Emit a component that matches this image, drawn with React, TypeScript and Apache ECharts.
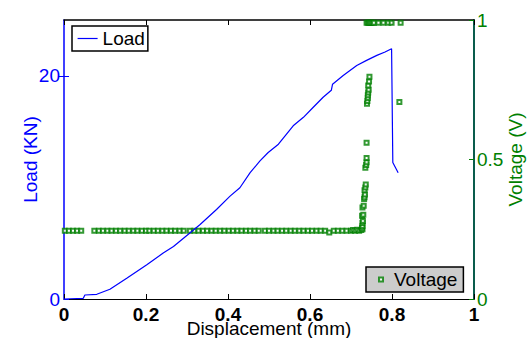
import React, { useEffect, useRef } from "react";
import * as echarts from "echarts";

const loadX = [0, 0.047, 0.051, 0.08, 0.112, 0.153, 0.202, 0.242, 0.267, 0.307, 0.332, 0.372, 0.405, 0.429, 0.454, 0.478, 0.498, 0.523, 0.559, 0.584, 0.608, 0.632, 0.652, 0.655, 0.681, 0.714, 0.738, 0.763, 0.783, 0.799, 0.802, 0.815];
const loadY = [0, 0.06, 0.36, 0.42, 0.87, 1.86, 3.06, 4.12, 4.71, 5.92, 6.67, 8.02, 9.22, 9.97, 11.32, 12.37, 13.13, 13.87, 15.52, 16.28, 17.18, 18.08, 18.7, 19.25, 20.03, 20.93, 21.38, 21.83, 22.13, 22.43, 12.23, 11.32];

const voltX = [
  0.002, 0.012, 0.022, 0.032, 0.042,
  0.074, 0.085, 0.095, 0.106, 0.116, 0.127, 0.137, 0.148, 0.158, 0.169, 0.179, 0.19, 0.2,
  0.208, 0.219, 0.229, 0.24, 0.25, 0.261, 0.271, 0.282, 0.292,
  0.307, 0.318, 0.328, 0.339, 0.349, 0.36, 0.37, 0.381, 0.391, 0.402, 0.412, 0.423, 0.433, 0.444, 0.454, 0.465, 0.475,
  0.49, 0.5, 0.511, 0.521, 0.532, 0.542, 0.553, 0.563, 0.574, 0.584, 0.595, 0.605, 0.616, 0.626, 0.637, 0.647, 0.658, 0.668, 0.679, 0.689,
  0.7, 0.705, 0.71, 0.715, 0.72, 0.725, 0.728,
  0.727, 0.728, 0.728, 0.729, 0.727, 0.73, 0.728, 0.731, 0.732, 0.733, 0.734, 0.733, 0.735, 0.736, 0.735, 0.737, 0.738, 0.738, 0.738, 0.739, 0.74, 0.741, 0.741, 0.742, 0.743, 0.742, 0.744, 0.745,
  0.738, 0.741, 0.744, 0.747, 0.75, 0.753, 0.756, 0.767, 0.779, 0.791, 0.799, 0.821,
  0.818
];
const voltY = [
  0.245, 0.245, 0.245, 0.245, 0.245,
  0.245, 0.245, 0.245, 0.245, 0.245, 0.245, 0.245, 0.245, 0.245, 0.245, 0.245, 0.245, 0.245,
  0.245, 0.245, 0.245, 0.245, 0.245, 0.245, 0.245, 0.245, 0.245,
  0.245, 0.245, 0.245, 0.245, 0.245, 0.245, 0.245, 0.245, 0.245, 0.245, 0.245, 0.245, 0.245, 0.245, 0.245, 0.245, 0.245,
  0.245, 0.245, 0.245, 0.245, 0.245, 0.245, 0.245, 0.245, 0.245, 0.245, 0.245, 0.245, 0.245, 0.245, 0.245, 0.238, 0.245, 0.245, 0.245, 0.245,
  0.245, 0.247, 0.245, 0.248, 0.245, 0.247, 0.25,
  0.255, 0.262, 0.272, 0.28, 0.298, 0.302, 0.328, 0.334, 0.358, 0.365, 0.375, 0.39, 0.4, 0.41, 0.47, 0.48, 0.49, 0.505, 0.56, 0.7, 0.71, 0.72, 0.73, 0.74, 0.75, 0.765, 0.78, 0.797,
  0.99, 0.99, 0.99, 0.99, 0.99, 0.99, 0.99, 0.99, 0.99, 0.99, 0.99, 0.99,
  0.706
];

const xTicks = [0, 0.2, 0.4, 0.6, 0.8, 1];
const loadTicks = [0, 20];
const voltTicks = [0, 0.5, 1];

const FONT = "Liberation Sans";
const FS = 19;

export default function App() {
  const ref = useRef<HTMLDivElement>(null);
  useEffect(() => {
    const chart = echarts.init(ref.current!, null, { renderer: "svg" });
    const loadData = loadX.map((x, i) => [x, loadY[i]]);
    const voltData = voltX.map((x, i) => [x, voltY[i]]);
    chart.setOption({
      animation: false,
      textStyle: { fontFamily: FONT },
      grid: { left: 64, right: 54, top: 20, bottom: 39, containLabel: false, outerBoundsMode: "none" },
      legend: [
        {
          data: ["Load"],
          left: 72,
          top: 26,
          orient: "vertical",
          backgroundColor: "#ffffff",
          borderColor: "#000000",
          borderWidth: 1.5,
          borderRadius: 0,
          padding: [3, 3, 3, 5],
          itemWidth: 20,
          itemHeight: 14,
          itemStyle: { opacity: 0 },
          lineStyle: { color: "#0000ff", width: 1.2 },
          textStyle: { fontSize: FS, color: "#000", fontFamily: FONT },
          selectedMode: false,
        },
        {
          data: ["Voltage"],
          left: 366,
          top: 267,
          orient: "vertical",
          backgroundColor: "#cccccc",
          borderColor: "#000000",
          borderWidth: 1.5,
          borderRadius: 0,
          padding: [3, 6, 3, 12],
          itemWidth: 4,
          itemHeight: 4,
          textStyle: { fontSize: FS, color: "#000", fontFamily: FONT, padding: [0, 0, 0, 6] },
          selectedMode: false,
        },
      ],
      xAxis: [
        {
          type: "value",
          min: 0,
          max: 1,
          interval: 0.2,
          position: "bottom",
          name: "Displacement (mm)",
          nameLocation: "middle",
          nameGap: 20,
          nameMoveOverlap: false,
          nameTextStyle: { fontSize: FS, color: "#000", fontFamily: FONT },
          axisLine: { show: true, onZero: false, lineStyle: { color: "#000", width: 1 } },
          axisTick: { show: true, inside: true, length: 5, lineStyle: { color: "#000" }, customValues: xTicks },
          axisLabel: {
            show: true,
            margin: 6,
            fontSize: FS,
            fontWeight: "bold",
            color: "#000",
            fontFamily: FONT,
            customValues: xTicks,
            formatter: (v: number) => String(Math.round(v * 10) / 10),
          },
          splitLine: { show: false },
        },
        {
          type: "value",
          min: 0,
          max: 1,
          interval: 0.2,
          position: "top",
          axisLine: { show: true, onZero: false, lineStyle: { color: "#000", width: 1.5 } },
          axisTick: { show: true, inside: true, length: 5, lineStyle: { color: "#000" }, customValues: xTicks },
          axisLabel: { show: false },
          splitLine: { show: false },
        },
      ],
      yAxis: [
        {
          type: "value",
          min: 0,
          max: 25,
          position: "left",
          name: "Load (KN)",
          nameLocation: "middle",
          nameRotate: 90,
          nameGap: 24,
          nameMoveOverlap: false,
          nameTextStyle: { fontSize: FS, color: "#0000ff", fontFamily: FONT },
          axisLine: { show: true, onZero: false, lineStyle: { color: "#0000ff", width: 1.5 } },
          axisTick: { show: true, inside: true, length: 5, lineStyle: { color: "#0000ff" }, customValues: loadTicks },
          axisLabel: { show: true, margin: 4, fontSize: FS, color: "#0000ff", fontFamily: FONT, customValues: loadTicks },
          splitLine: { show: false },
        },
        {
          type: "value",
          min: 0,
          max: 1,
          interval: 0.5,
          position: "right",
          name: "Voltage (V)",
          nameLocation: "middle",
          nameRotate: 90,
          nameGap: 32,
          nameMoveOverlap: false,
          nameTextStyle: { fontSize: FS, color: "#008000", fontFamily: FONT },
          axisLine: { show: true, onZero: false, lineStyle: { color: "#0a5c4c", width: 2 } },
          axisTick: { show: true, inside: true, length: 5, lineStyle: { color: "#008000" }, customValues: voltTicks },
          axisLabel: {
            show: true,
            margin: 3,
            fontSize: FS,
            color: "#008000",
            fontFamily: FONT,
            customValues: voltTicks,
            formatter: (v: number) => String(v),
          },
          splitLine: { show: false },
        },
        {
          type: "value",
          min: 0,
          max: 25,
          position: "right",
          axisLine: { show: false },
          axisTick: { show: true, inside: true, length: 5, lineStyle: { color: "#0000ff" }, customValues: [20] },
          axisLabel: { show: false },
          splitLine: { show: false },
        },
      ],
      series: [
        {
          name: "Load",
          type: "line",
          xAxisIndex: 0,
          yAxisIndex: 0,
          data: loadData,
          showSymbol: false,
          symbol: "none",
          lineStyle: { color: "#0000ff", width: 1.2 },
          itemStyle: { color: "#0000ff" },
        },
        {
          name: "Voltage",
          type: "scatter",
          xAxisIndex: 0,
          yAxisIndex: 1,
          data: voltData,
          symbol: "emptyRect",
          symbolSize: 4,
          clip: false,
          itemStyle: { color: "#008000", borderColor: "#008000", borderWidth: 1 },
        },
      ],
    });
    return () => chart.dispose();
  }, []);
  return <div ref={ref} style={{ width: 528, height: 338, position: "absolute", left: 0, top: 0 }} />;
}
